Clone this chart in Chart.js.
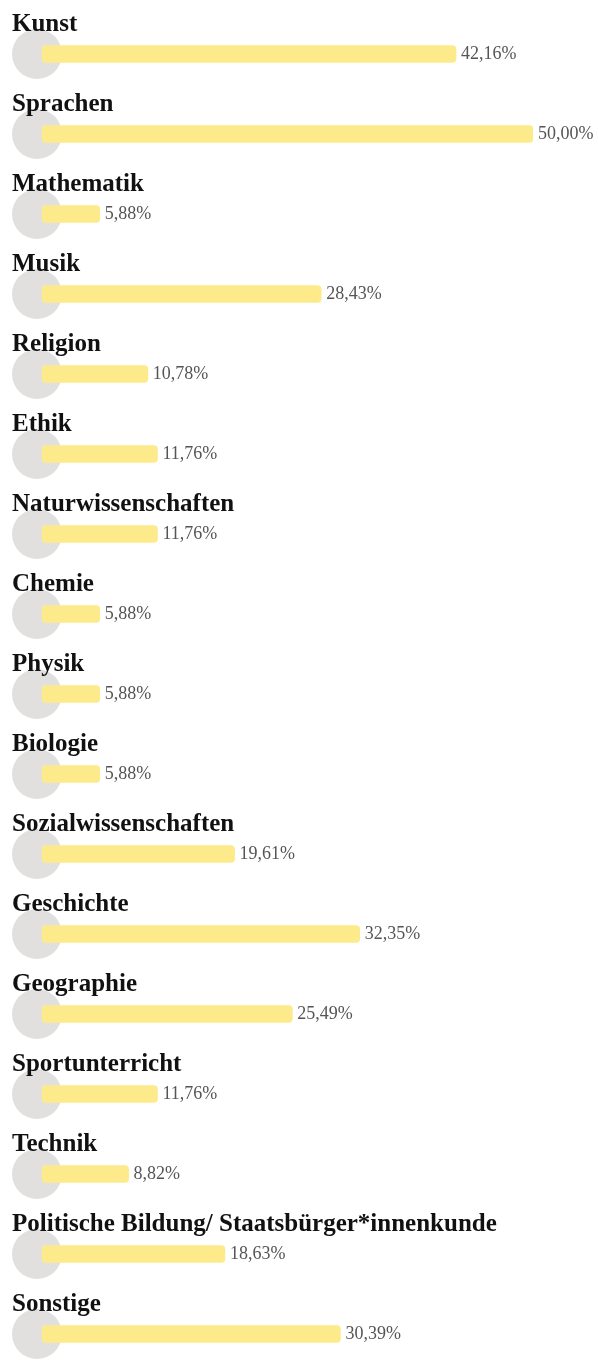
<!DOCTYPE html>
<html lang="de">
<head>
  <meta charset="UTF-8">
  <title>Fächer</title>
  <script src="https://cdn.jsdelivr.net/npm/chart.js"></script>
  <style>
    body {
      margin: 0;
      padding: 0;
      background: #ffffff;
      overflow: hidden;
    }
    .chart-wrap {
      position: relative;
      width: 598px;
      height: 1380px;
    }
  </style>
</head>
<body>
  <div class="chart-wrap">
    <canvas id="subjectChart"></canvas>
  </div>

  <script>
    const subjects = [
      "Kunst", "Sprachen", "Mathematik", "Musik", "Religion", "Ethik",
      "Naturwissenschaften", "Chemie", "Physik", "Biologie",
      "Sozialwissenschaften", "Geschichte", "Geographie", "Sportunterricht",
      "Technik", "Politische Bildung/ Staatsbürger*innenkunde", "Sonstige"
    ];
    const shares = [
      42.16, 50.00, 5.88, 28.43, 10.78, 11.76,
      11.76, 5.88, 5.88, 5.88,
      19.61, 32.35, 25.49, 11.76,
      8.82, 18.63, 30.39
    ];
    const xMin = -0.51;
    const xMax = 50;

    const fmt = v => v.toFixed(2).replace(".", ",") + "%";

    // titles above each row + value labels behind bars
    const rowText = {
      id: "rowText",
      afterDatasetsDraw(chart) {
        const ctx = chart.ctx;
        const yScale = chart.scales.y;
        const bars = chart.getDatasetMeta(0).data;
        ctx.save();
        subjects.forEach((name, i) => {
          const yc = yScale.getPixelForValue(i);
          ctx.font = "bold 25px 'Liberation Serif', serif";
          ctx.fillStyle = "#111111";
          ctx.textAlign = "left";
          ctx.textBaseline = "alphabetic";
          ctx.fillText(name, 12, yc - 23);

          ctx.font = "18px 'Liberation Serif', serif";
          ctx.fillStyle = "#555555";
          ctx.textBaseline = "middle";
          ctx.fillText(fmt(shares[i]), bars[i].x + 5, yc);
        });
        ctx.restore();
      }
    };

    new Chart(document.getElementById("subjectChart"), {
      data: {
        labels: subjects,
        datasets: [
          {
            type: "bar",
            data: shares,
            backgroundColor: "#fdea8b",
            barThickness: 17,
            borderRadius: 4,
            borderSkipped: false,
            order: 0
          },
          {
            type: "line",
            data: subjects.map(s => ({ x: xMin, y: s })),
            showLine: false,
            pointRadius: 25,
            pointHoverRadius: 25,
            pointBackgroundColor: "#e1e0de",
            pointBorderWidth: 0,
            clip: false,
            order: 1
          }
        ]
      },
      options: {
        indexAxis: "y",
        responsive: true,
        maintainAspectRatio: false,
        animation: false,
        layout: {
          autoPadding: false,
          padding: { left: 37, right: 65, top: 14, bottom: 6 }
        },
        plugins: {
          legend: { display: false },
          tooltip: { enabled: false }
        },
        scales: {
          x: { type: "linear", min: xMin, max: xMax, display: false },
          y: { type: "category", display: false, offset: true }
        }
      },
      plugins: [rowText]
    });
  </script>
</body>
</html>
